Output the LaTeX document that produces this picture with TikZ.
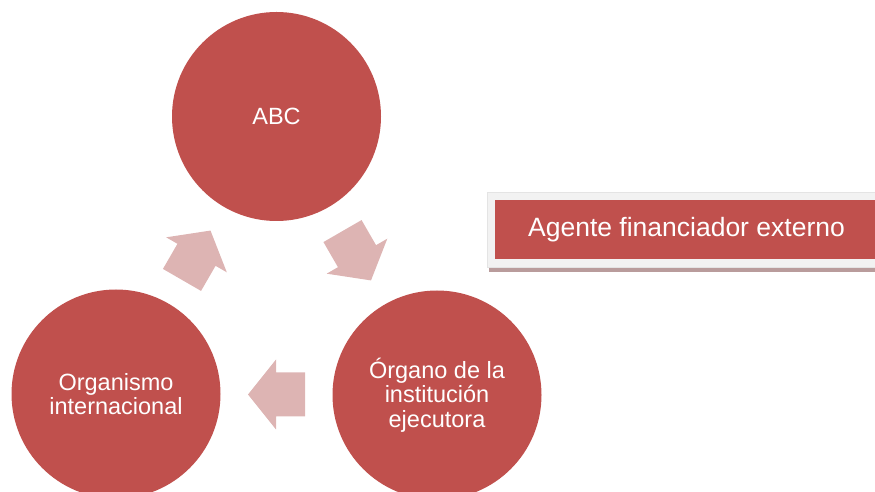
\documentclass[tikz,border=0pt]{standalone}
\usepackage{fontspec}
\setmainfont{Liberation Sans}
\usepackage{tikz}
\usetikzlibrary{calc}
\definecolor{rojo}{HTML}{C0504D}
\definecolor{rosa}{HTML}{DDB4B3}
\definecolor{grisfondo}{HTML}{F2F2F2}
\definecolor{grisborde}{HTML}{E4E4E4}
\definecolor{sombra}{HTML}{B99C9C}
\tikzset{
  circulo/.style={circle,fill=rojo,minimum size=209pt,inner sep=0pt,text=white,
    align=center,font=\fontsize{23.5}{24.5}\selectfont},
  flecha/.style={fill=rosa},
  caja/.style={rectangle,fill=rojo,minimum width=383pt,minimum height=59pt,
    inner sep=0pt,text=white,font=\fontsize{26.5}{30}\selectfont},
  fondocaja/.style={rectangle,fill=grisfondo,draw=grisborde,line width=0.3pt,
    minimum width=391pt,minimum height=75pt,inner sep=0pt}
}
\newcommand{\flechabloque}[2]{%
  \fill[flecha,shift={#1},rotate=#2] (-28.5,-22) -- (0.5,-22) -- (0.5,-35) -- (28.5,0)
    -- (0.5,35) -- (0.5,22) -- (-28.5,22) -- cycle;}

\begin{document}
\begin{tikzpicture}[x=1pt,y=1pt]
\useasboundingbox (0,0) rectangle (875,492);
\node[circulo] (abc) at (276.5,375.5) {ABC};
\node[circulo] (org) at (116,98) {Organismo\\internacional};
\node[circulo] (ejec) at (437,97) {Órgano de la\\institución\\ejecutora};
\flechabloque{($(org)!0.5!(abc)$)}{60}
\flechabloque{($(abc)!0.5!(ejec)$)}{-60}
\flechabloque{($(ejec)!0.5!(org)$)}{180}
\fill[sombra] (489,220) rectangle (878,224);
\node[fondocaja] (fondo) at (682.5,262.5) {};
\node[caja] (agente) at (686.5,262.5) {Agente financiador externo};
\end{tikzpicture}
\end{document}
